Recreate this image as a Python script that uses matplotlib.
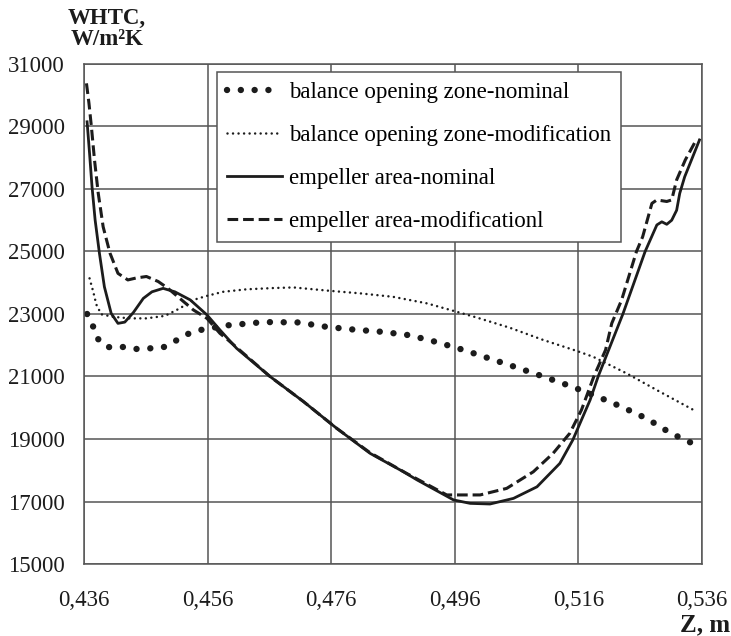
import numpy as np
import matplotlib
matplotlib.use('Agg')
import matplotlib.pyplot as plt
from matplotlib.ticker import FuncFormatter

plt.rcParams['font.family'] = ['Liberation Serif', 'DejaVu Serif']

# balance opening zone - nominal (big dots)
z_bal_nom = [0.4365, 0.4375, 0.4384, 0.4399, 0.4421, 0.4443, 0.4466, 0.4488, 0.4509, 0.4528,
             0.4549, 0.4572, 0.4594, 0.4617, 0.4639, 0.4661, 0.4707, 0.4752, 0.4797, 0.4842,
             0.4887, 0.4931, 0.4974, 0.5017, 0.5060, 0.5103, 0.5146, 0.5188, 0.5230, 0.5271,
             0.5310, 0.5350]
v_bal_nom = [23000, 22590, 22150, 21940, 21950, 21880, 21900, 21930, 22150, 22360,
             22490, 22570, 22640, 22680, 22720, 22740, 22730, 22590, 22500, 22430,
             22320, 22100, 21850, 21570, 21290, 21000, 20700, 20380, 20030, 19650,
             19180, 18810]

# balance opening zone - modification (small dots)
z_bal_mod = [0.4369, 0.4375, 0.4380, 0.4388, 0.4407, 0.4434, 0.4461, 0.4491, 0.4515, 0.4537,
             0.4559, 0.4585, 0.4623, 0.4666, 0.4699, 0.4753, 0.4807, 0.4860, 0.4915, 0.4958,
             0.4995, 0.5049, 0.5103, 0.5157, 0.5184, 0.5238, 0.5292, 0.5349]
v_bal_mod = [24140, 23710, 23300, 22990, 22910, 22860, 22860, 22940, 23180, 23450,
             23580, 23710, 23790, 23830, 23850, 23750, 23660, 23550, 23340, 23100,
             22890, 22560, 22170, 21820, 21630, 21100, 20510, 19900]

# empeller area - nominal (solid)
z_emp_nom = [0.4365, 0.4369, 0.4373, 0.4378, 0.4385, 0.4393, 0.4404, 0.4415, 0.4426, 0.4440,
             0.4456, 0.4470, 0.4488, 0.4507, 0.4532, 0.4559, 0.4580, 0.4607, 0.4661, 0.4715,
             0.4769, 0.4823, 0.4877, 0.4899, 0.4958, 0.4985, 0.5017, 0.5055, 0.5093, 0.5130,
             0.5151, 0.5179, 0.5192, 0.5232, 0.5268, 0.5287, 0.5295, 0.5303, 0.5311, 0.5319,
             0.5324, 0.5332, 0.5343, 0.5356]
v_emp_nom = [29150, 28140, 27070, 26010, 24940, 23870, 23020, 22700, 22740, 23050,
             23500, 23710, 23820, 23710, 23450, 22970, 22490, 21900, 21000, 20200,
             19340, 18540, 17950, 17690, 17050, 16940, 16920, 17100, 17470, 18220,
             18970, 20250, 21000, 23000, 25000, 25850, 25950, 25870, 26000, 26320,
             26860, 27390, 27930, 28570]

# empeller area - modification (dashed)
z_emp_mod = [0.4364, 0.4368, 0.4372, 0.4377, 0.4383, 0.4391, 0.4402, 0.4415, 0.4431, 0.4444,
             0.4461, 0.4480, 0.4496, 0.4515, 0.4537, 0.4559, 0.4580, 0.4593, 0.4661, 0.4715,
             0.4769, 0.4823, 0.4882, 0.4947, 0.5001, 0.5044, 0.5087, 0.5119, 0.5146, 0.5165,
             0.5185, 0.5204, 0.5214, 0.5230, 0.5254, 0.5264, 0.5279, 0.5287, 0.5303, 0.5311,
             0.5319, 0.5333, 0.5349, 0.5355]
v_emp_mod = [30380, 29750, 28990, 27930, 26870, 25790, 24950, 24300, 24090, 24150,
             24200, 24040, 23820, 23500, 23130, 22860, 22380, 22170, 21000, 20200,
             19340, 18560, 17900, 17210, 17210, 17420, 17950, 18540, 19180, 19930,
             21000, 21850, 22700, 23450, 25000, 25470, 26540, 26650, 26600, 26650,
             27290, 27930, 28510, 28550]

x_ticks = [0.436, 0.456, 0.476, 0.496, 0.516, 0.536]
y_ticks = list(range(15000, 31001, 2000))

fig = plt.figure(figsize=(7.31, 6.36), dpi=100)
ax = fig.add_axes([0.1149, 0.1132, 0.8454, 0.7862])

c = '#1c1c1c'
ax.plot(z_bal_nom, v_bal_nom, color=c, lw=4.6, linestyle=(0, (0.01, 2.15)),
        dash_capstyle='round', label='balance opening zone-nominal')
ax.plot(z_bal_mod, v_bal_mod, color=c, lw=1.8, linestyle=(0, (0.01, 2.2)),
        dash_capstyle='round', label='balance opening zone-modification')
ax.plot(z_emp_nom, v_emp_nom, color=c, lw=2.0, label='empeller area-nominal')
ax.plot(z_emp_mod, v_emp_mod, color=c, lw=2.2, linestyle=(0, (3.5, 1.6)),
        label='empeller area-modificationl')

ax.set_xlim(0.436, 0.536)
ax.set_ylim(15000, 31000)
ax.set_xticks(x_ticks)
ax.set_yticks(y_ticks)
ax.xaxis.set_major_formatter(FuncFormatter(lambda v, p: ('%.3f' % v).replace('.', ',')))
ax.grid(True, color='#555555', lw=1.1)
ax.set_axisbelow(True)
for s in ax.spines.values():
    s.set_color('#555555')
    s.set_linewidth(1.1)
ax.tick_params(length=0, labelsize=16.5, colors='#1c1c1c')
ax.tick_params(axis='x', pad=19)
ax.tick_params(axis='y', pad=14)

leg = ax.legend(loc='upper left', bbox_to_anchor=(0.215, 0.984), fontsize=16.5,
                frameon=True, fancybox=False, framealpha=1, edgecolor='#555555',
                handlelength=2.4, handletextpad=0.3, labelspacing=0.95,
                borderpad=0.45, borderaxespad=0)
leg.get_frame().set_linewidth(1.1)

fig.text(0.146, 0.988, 'WHTC,\nW/m\u00b2K', ha='center', va='top', fontsize=16.5,
         fontweight='bold', linespacing=1.05, color='#1c1c1c')
fig.text(0.999, 0.0, 'Z, m', ha='right', va='bottom', fontsize=18,
         fontweight='bold', color='#1c1c1c')

fig.savefig('out.png', dpi=100)
